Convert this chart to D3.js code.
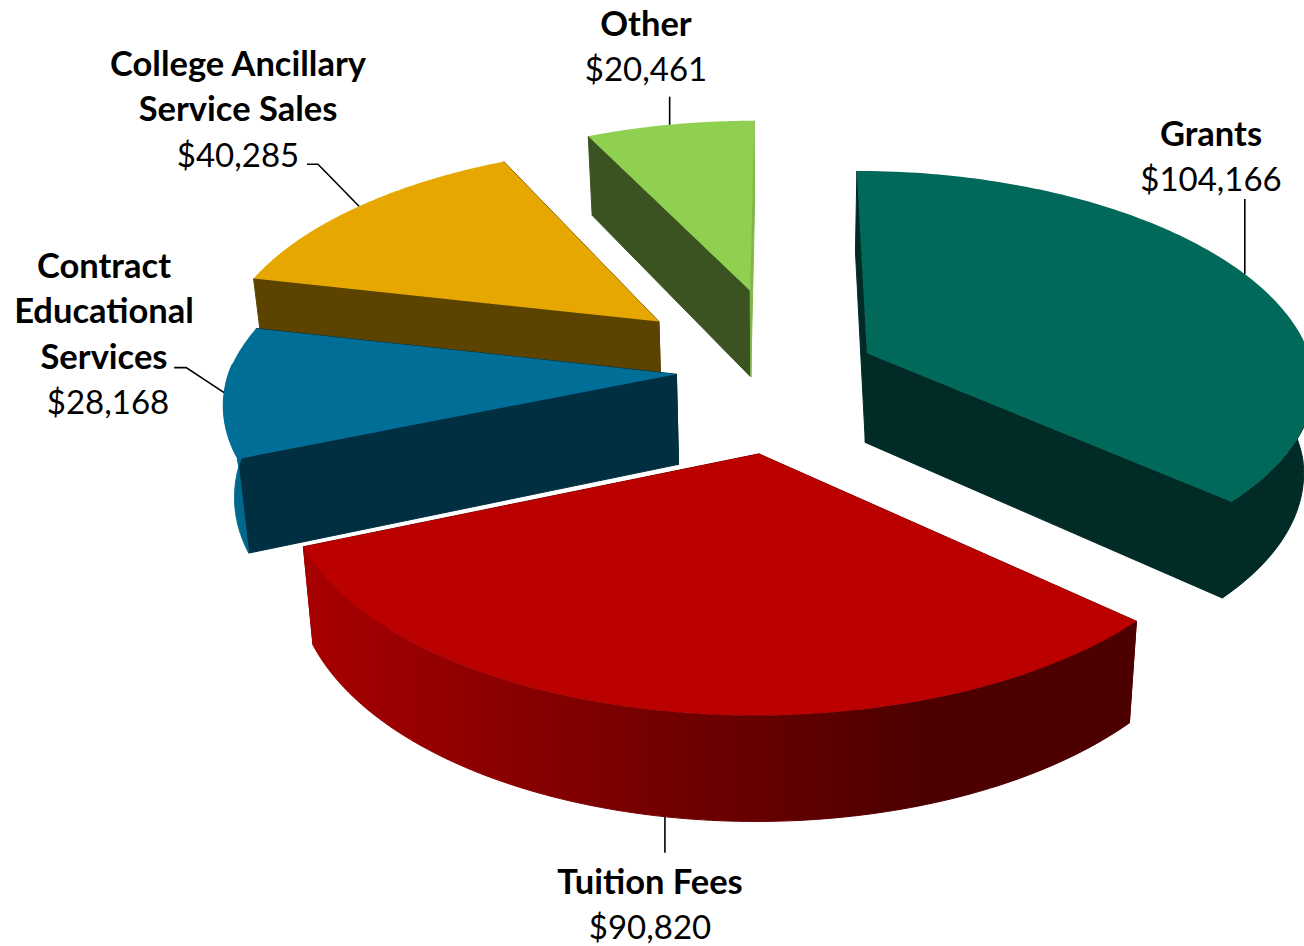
<!DOCTYPE html>
<html>
<head>
<meta charset="utf-8">
<title>Revenue by source</title>
<script src="https://cdnjs.cloudflare.com/ajax/libs/d3/7.8.5/d3.min.js"></script>
<style>
  html, body { margin: 0; padding: 0; background: #fff; overflow: hidden; }
  svg { display: block; }
  text { font-family: Lato, "Open Sans", sans-serif; fill: #000; text-anchor: middle; }
</style>
</head>
<body>
<svg id="chart" width="1304" height="946"></svg>
<script>
// Revenue sources, clockwise from twelve o'clock
const categories = ["Grants", "Tuition Fees", "Contract Educational Services", "College Ancillary Service Sales", "Other"];
const amounts = [104166, 90820, 28168, 40285, 20461];

// Per-slice appearance and layout
const explode = [0.2, 0.39, 0.235, 0.385, 0.41];
const sideways = [0.005, 0.012, -0.006, 0.012, 0.012];
const topColors = ["#00695a", "#bb0000", "#006e96", "#e6a800", "#90d050"];
const startWallColors = ["#012b26", "#7a0000", "#002f42", "#5c4400", "#3b5320"];
const endWallColors = ["#012b26", "#7a0000", "#002f42", "#5c4400", "#7fb848"];
const rimStops = [
  [[0, "#012b26"], [1, "#012b26"]],
  [[0, "#a80000"], [0.75, "#4c0000"], [1, "#4c0000"]],
  [[0, "#00688c"], [1, "#00688c"]],
  [[0, "#5c4400"], [1, "#5c4400"]],
  [[0, "#90d050"], [1, "#7ab040"]]
];
const labelLines = [["Grants"], ["Tuition Fees"], ["Contract", "Educational", "Services"], ["College Ancillary", "Service Sales"], ["Other"]];
const labelX = [1211, 650, 104, 238, 646];
const valueShift = [0, 0, 4, 0, 0];
const labelBaseline = [145.5, 893.5, 277.5, 75.5, 35.5];
const leaderAngle = [66, 190, 265, 309, 347];
const leaderBottom = [false, true, false, false, false];
const leaderElbows = [
  [[0, -75]],
  [[0, 36]],
  [[-38, -25], [-50, -25]],
  [[-41, -42], [-52, -42]],
  [[0, -28]]
];

// Perspective camera: the pie lies on a plane tilted away from the viewer
const cam = { cx: 784, cy: 370, fx: 447, fy: 208, k: 0.12, kBack: 0.14, depth: 90, depthGain: 0.9, shrink: 0.02 };
const LINE = 45.5, BOLD_SIZE = 34.5, VALUE_SIZE = 33;

function project(X, Y, d) {
  const s = 1 / (1 + cam.k * Y);
  const sx = 1 / (1 + (Y < 0 ? cam.k : cam.kBack) * Y);
  return [
    cam.cx + cam.fx * X * sx * (1 - cam.shrink * d),
    cam.cy - cam.fy * Y * s + cam.depth * (1 + cam.depthGain * (s - 1)) * d
  ];
}

const pie = d3.pie().sort(null).value(d => d);
const arcs = pie(amounts);
const svg = d3.select("#chart");
const defs = svg.append("defs");
const line = d3.line();
const root = svg.append("g");

const slices = arcs.map((a, i) => {
  const mid = (a.startAngle + a.endAngle) / 2;
  const ox = explode[i] * Math.sin(mid) + sideways[i];
  const oy = explode[i] * Math.cos(mid);
  const at = (angle, r, d) => project(ox + r * Math.sin(angle), oy + r * Math.cos(angle), d);
  return { i, a, at };
});

// Painted back to front so nearer slices overlap farther ones
const order = [4, 3, 2, 0, 1];

order.forEach(i => {
  const { a, at } = slices[i];
  const g = root.append("g").attr("class", "slice");
  const samples = d3.range(0, 121).map(t => a.startAngle + (a.endAngle - a.startAngle) * t / 120);

  // Radial walls at both edges of the wedge
  [[a.startAngle, startWallColors[i]], [a.endAngle, endWallColors[i]]].forEach(([ang, colour]) => {
    g.append("path")
      .attr("d", line([at(ang, 0, 0), at(ang, 1, 0), at(ang, 1, 1), at(ang, 0, 1)]) + "Z")
      .attr("fill", colour)
      .attr("stroke", colour).attr("stroke-width", 1);
  });

  // Outer curved face, only where it turns toward the viewer
  const front = samples.filter(t => Math.cos(t) < 0.05);
  if (front.length > 1) {
    const xs = front.map(t => at(t, 1, 0)[0]);
    const id = "rim" + i;
    const grad = defs.append("linearGradient").attr("id", id)
      .attr("gradientUnits", "userSpaceOnUse")
      .attr("x1", d3.min(xs)).attr("x2", d3.max(xs)).attr("y1", 0).attr("y2", 0);
    rimStops[i].forEach(s => grad.append("stop").attr("offset", s[0]).attr("stop-color", s[1]));
    const outline = front.map(t => at(t, 1, 0)).concat(front.slice().reverse().map(t => at(t, 1, 1)));
    g.append("path").attr("d", line(outline) + "Z")
      .attr("fill", `url(#${id})`)
      .attr("stroke", `url(#${id})`).attr("stroke-width", 1);
  }

  // Top face
  const top = [at(0, 0, 0)].concat(samples.map(t => at(t, 1, 0)));
  g.append("path").attr("d", line(top) + "Z").attr("fill", topColors[i]);
});

// Leader lines and labels
const money = d3.format("$,");
slices.forEach(({ i, at }) => {
  const start = at(leaderAngle[i] * Math.PI / 180, 1, leaderBottom[i] ? 1 : 0);
  const pts = [start].concat(leaderElbows[i].map(o => [start[0] + o[0], start[1] + o[1]]));
  root.append("path").attr("d", line(pts)).attr("fill", "none")
    .attr("stroke", "#000").attr("stroke-width", 1.6);

  const label = svg.append("text").attr("y", labelBaseline[i]);
  labelLines[i].forEach((t, n) => {
    label.append("tspan").attr("x", labelX[i]).attr("dy", n ? LINE : 0)
      .attr("font-size", BOLD_SIZE).attr("font-weight", 700).text(t);
  });
  label.append("tspan").attr("x", labelX[i] + valueShift[i]).attr("dy", LINE)
    .attr("font-size", VALUE_SIZE).attr("font-weight", 400).text(money(amounts[i]));
});
</script>
</body>
</html>
